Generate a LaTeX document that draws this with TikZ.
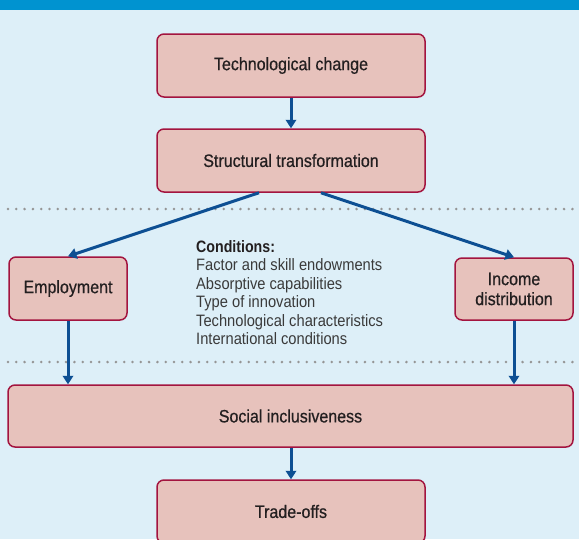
\documentclass[tikz,border=0pt]{standalone}
\usepackage{fontspec}
\setmainfont{Liberation Sans}[FakeStretch=0.89]
\newfontfamily\boxfont{Liberation Sans}[FakeStretch=0.89,FakeBold=0.6]
\newfontfamily\condbold{Liberation Sans}[FakeStretch=0.86,BoldFont={Liberation Sans Bold}]
\usetikzlibrary{arrows.meta,calc}
\definecolor{bgblue}{HTML}{DDEFF8}
\definecolor{barblue}{HTML}{0093D0}
\definecolor{boxfill}{HTML}{E7C2BC}
\definecolor{boxline}{HTML}{A3143F}
\definecolor{arrowblue}{HTML}{0D4F93}
\definecolor{dotgray}{HTML}{959595}
\definecolor{txtdark}{HTML}{231F20}
\definecolor{txtgray}{HTML}{3A3A3A}
\tikzset{
  flowbox/.style={draw=boxline, fill=boxfill, line width=1.5pt, rounded corners=7pt,
    inner sep=0pt, text=txtdark, font=\boxfont\fontsize{18}{20}\selectfont, align=center},
  flowarrow/.style={draw=arrowblue, line width=3pt, -{Triangle[length=8.5pt,width=10.5pt]}},
  dotsep/.style={draw=dotgray, line width=2.8pt, line cap=round, dash pattern=on 0pt off 8.3pt}
}
\begin{document}
\begin{tikzpicture}[x=1pt,y=-1pt]
\useasboundingbox (0,0) rectangle (579,539);
\begin{scope}
\clip (0,0) rectangle (579,539);
\fill[bgblue] (0,0) rectangle (579,539);
\fill[barblue] (0,0) rectangle (579,10);
% dotted separators
\coordinate (d1a) at (8,209);
\coordinate (d1b) at (576,209);
\coordinate (d2a) at (8,362);
\coordinate (d2b) at (576,362);
\draw[dotsep] (d1a) -- (d1b);
\draw[dotsep] (d2a) -- (d2b);
% boxes
\node[flowbox, minimum width=268pt, minimum height=63pt] (tech) at (291,65.5) {Technological change};
\node[flowbox, minimum width=268pt, minimum height=63pt] (struct) at (291,160.5) {Structural transformation};
\node[flowbox, minimum width=118pt, minimum height=63pt] (emp) at (68,288.5) {Employment};
\node[flowbox, minimum width=118pt, minimum height=62pt] (inc) at (514,289) {Income\\distribution};
\node[flowbox, minimum width=565pt, minimum height=62pt] (soc) at (290.5,416) {Social inclusiveness};
\node[flowbox, minimum width=268pt, minimum height=63pt] (trade) at (291,511.5) {Trade-offs};
% conditions
\node[anchor=north west, inner sep=0pt, align=left, text=txtgray,
  font=\fontsize{16.5}{18.5}\selectfont] (cond) at (196,240)
  {{\condbold\bfseries\color{txtdark}Conditions:}\\
   Factor and skill endowments\\
   Absorptive capabilities\\
   Type of innovation\\
   Technological characteristics\\
   International conditions};
% arrows
\draw[flowarrow] (tech.south) -- (struct.north);
\draw[flowarrow] ($(struct.south)+(-32,0)$) -- (emp.north);
\draw[flowarrow] ($(struct.south)+(30,0)$) -- (inc.north);
\draw[flowarrow] (emp.south) -- (emp.south |- soc.north);
\draw[flowarrow] (inc.south) -- (inc.south |- soc.north);
\draw[flowarrow] (soc.south -| trade.north) -- (trade.north);
\end{scope}
\end{tikzpicture}
\end{document}
